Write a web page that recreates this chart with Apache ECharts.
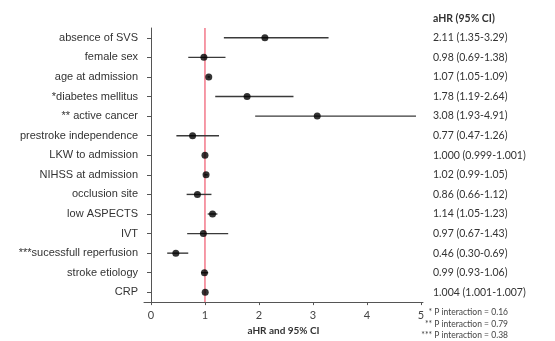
<!DOCTYPE html>
<html><head><meta charset="utf-8">
<script src="https://cdn.jsdelivr.net/npm/echarts@6/dist/echarts.min.js"></script>
<style>html,body{margin:0;padding:0;background:#fff}#c{width:555px;height:341px}</style>
</head><body><div id="c"></div>
<script>
const categories = ["absence of SVS","female sex","age at admission","*diabetes mellitus","** active cancer","prestroke independence","LKW to admission","NIHSS at admission","occlusion site","low ASPECTS","IVT","***sucessfull reperfusion","stroke etiology","CRP"];
const hr    = [2.11, 0.98, 1.07, 1.78, 3.08, 0.77, 1.000, 1.02, 0.86, 1.14, 0.97, 0.46, 0.99, 1.004];
const lower = [1.35, 0.69, 1.05, 1.19, 1.93, 0.47, 0.999, 0.99, 0.66, 1.05, 0.67, 0.30, 0.93, 1.001];
const upper = [3.29, 1.38, 1.09, 2.64, 4.91, 1.26, 1.001, 1.05, 1.12, 1.23, 1.43, 0.69, 1.06, 1.007];
const hrText = ["2.11 (1.35-3.29)","0.98 (0.69-1.38)","1.07 (1.05-1.09)","1.78 (1.19-2.64)","3.08 (1.93-4.91)","0.77 (0.47-1.26)","1.000 (0.999-1.001)","1.02 (0.99-1.05)","0.86 (0.66-1.12)","1.14 (1.05-1.23)","0.97 (0.67-1.43)","0.46 (0.30-0.69)","0.99 (0.93-1.06)","1.004 (1.001-1.007)"];
const xTicks = [0,1,2,3,4,5];
const refLine = [1];
const footnotes = ["* P interaction = 0.16","** P interaction = 0.79","*** P interaction = 0.38"];

const chart = echarts.init(document.getElementById('c'), null, {renderer:'canvas'});
const axisColor = '#555';
chart.setOption({
  animation:false,
  backgroundColor:'#fff',
  grid:{left:144,right:132,top:28,bottom:33},
  title:{text:'aHR (95% CI)',left:428,top:8,textStyle:{fontFamily:'Lato',fontWeight:'bold',fontSize:10.5,color:'#333'}},
  graphic: footnotes.map((t,i)=>({type:'text',x:508,y:308+i*11.5,style:{text:t,fontFamily:'Lato',fontSize:8.5,fill:'#444',align:'right',verticalAlign:'top'}})),
  xAxis:{type:'value',min:-0.13,max:5.04,
    axisLine:{show:true,lineStyle:{color:axisColor,width:1}},
    axisTick:{show:true,customValues:xTicks,length:3,lineStyle:{color:axisColor}},
    axisLabel:{customValues:xTicks,fontFamily:'Lato',fontSize:11,color:'#444',margin:8},
    splitLine:{show:false},
    name:'aHR and 95% CI',nameLocation:'middle',nameGap:22,
    nameTextStyle:{fontFamily:'Lato',fontWeight:'bold',fontSize:10,color:'#333'}},
  yAxis:[{type:'category',data:categories,inverse:true,
    axisLine:{show:true,lineStyle:{color:axisColor,width:1}},
    axisTick:{show:true,alignWithLabel:true,length:4,lineStyle:{color:axisColor}},
    axisLabel:{fontFamily:'Liberation Sans',fontSize:11,color:'#333',margin:6}},
   {type:'category',data:hrText,inverse:true,position:'right',
    axisLine:{show:false},axisTick:{show:false},
    axisLabel:{fontFamily:'Lato',fontSize:10.5,color:'#333',margin:10,align:'left'}}],
  series:[
    {type:'custom',yAxisIndex:0,data:refLine.map(v=>[v,0]),
     renderItem:function(params,api){
       const cs=params.coordSys;
       const p=api.coord([api.value(0),0]);
       return {type:'line',shape:{x1:p[0],y1:cs.y,x2:p[0],y2:cs.y+cs.height},style:{stroke:'#ec3550',lineWidth:1}};
     },z:1},
    {type:'custom',yAxisIndex:0,
     data:categories.map((c,i)=>[lower[i],upper[i],i]),
     renderItem:function(params,api){
       const p1=api.coord([api.value(0),api.value(2)]);
       const p2=api.coord([api.value(1),api.value(2)]);
       return {type:'line',shape:{x1:p1[0],y1:p1[1],x2:p2[0],y2:p2[1]},style:{stroke:'#3a3a3a',lineWidth:1.4}};
     },z:2},
    {type:'scatter',yAxisIndex:0,data:categories.map((c,i)=>[hr[i],i]),
     symbol:'circle',symbolSize:7,itemStyle:{color:'#000'},z:3}
  ]
});
</script></body></html>
